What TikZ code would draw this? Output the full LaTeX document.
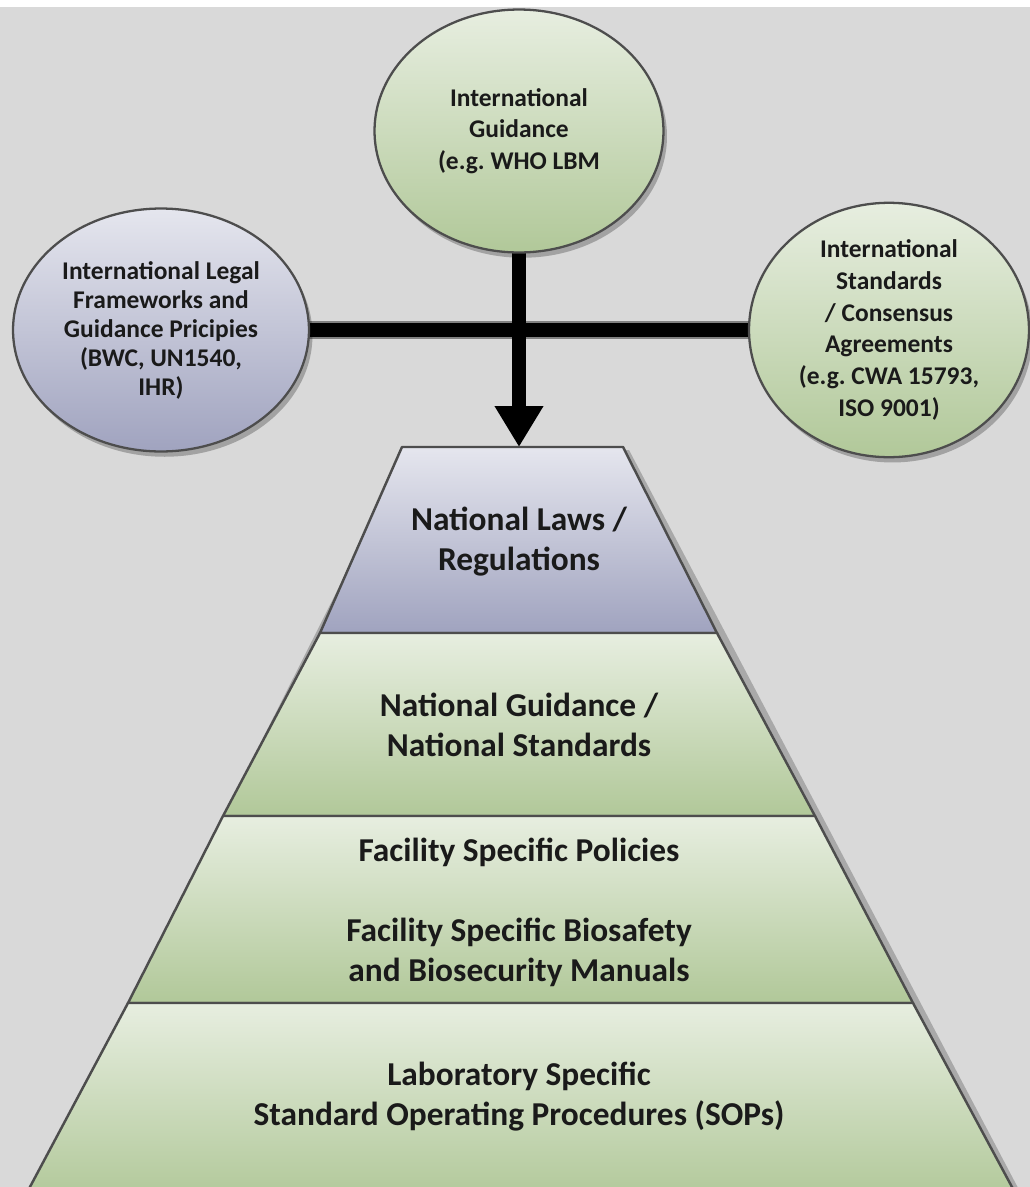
\documentclass[tikz,border=0pt]{standalone}
\usepackage{fontspec}
\setmainfont{Carlito}
\usepackage{xcolor}
\usepackage{tikz}
\usetikzlibrary{arrows.meta,positioning,shapes.geometric,shadows,backgrounds}
\frenchspacing

\definecolor{bggray}{HTML}{D9D9D9}
\definecolor{greenhi}{HTML}{E7EEE0}
\definecolor{greenlo}{HTML}{B1C899}
\definecolor{bluehi}{HTML}{E5E6EE}
\definecolor{bluelo}{HTML}{A0A3BF}
\definecolor{edgegray}{HTML}{4D4D4D}
\definecolor{inkblack}{HTML}{1A1A1A}

\begin{document}
\begin{tikzpicture}[
    x=0.02cm, y=-0.02cm,
    bubble/.style={ellipse, draw=edgegray, line width=1.3pt, inner sep=0pt, align=center, text=inkblack, font=\fontsize{14.5}{18}\selectfont\bfseries, drop shadow={shadow xshift=2pt, shadow yshift=-3pt, opacity=0.25, fill=black}},
    greenbub/.style={bubble, top color=greenhi, bottom color=greenlo},
    bluebub/.style={bubble, top color=bluehi, bottom color=bluelo},
    tierlabel/.style={align=center, text=inkblack, font=\fontsize{19}{22.8}\selectfont\bfseries},
    level/.style={draw=edgegray, line width=1.4pt, line join=round},
    bar/.style={line width=0.28cm, draw=black},
    pointer/.style={bar, -{Triangle[width=0.92cm, length=0.82cm]}}
]
    \useasboundingbox (0,0) rectangle (1030,1187);

    % Pyramid shadow
    \fill[black, opacity=0.22] (408,450) -- (629,450) -- (1026,1203) -- (29,1203) -- cycle;

    % Pyramid tiers
    \path[level, top color=bluehi, bottom color=bluelo] (402,447) -- (623,447) -- (717,633) -- (320,633) -- cycle;
    \path[level, top color=greenhi, bottom color=greenlo] (320,633) -- (717,633) -- (815,816) -- (223,816) -- cycle;
    \path[level, top color=greenhi, bottom color=greenlo] (223,816) -- (815,816) -- (913,1003) -- (128,1003) -- cycle;
    \path[level, top color=greenhi, bottom color=greenlo] (128,1003) -- (913,1003) -- (1019,1200) -- (23,1200) -- cycle;

    \node[tierlabel] (laws) at (519,542) {National Laws /\\Regulations};
    \node[tierlabel] (natguide) at (519,725) {National Guidance /\\National Standards};
    \node[tierlabel] (facility) at (519,912) {Facility Specific Policies\\[22.8pt]Facility Specific Biosafety\\and Biosecurity Manuals};
    \node[tierlabel] (labsops) at (519,1097) {Laboratory Specific\\Standard Operating Procedures (SOPs)};
    \coordinate (lawstop) at (519,447);

    % International sources
    \node[greenbub, minimum width=5.78cm, minimum height=4.86cm] (intlguide) at (519,131) {International\\Guidance\\(e.g. WHO LBM};
    \node[bluebub, minimum width=5.92cm, minimum height=4.86cm, font=\fontsize{14.5}{16.5}\selectfont\bfseries] (intllegal) at (161,330) {International Legal\\Frameworks and\\Guidance Pricipies\\(BWC, UN1540,\\IHR)};
    \node[greenbub, minimum width=5.6cm, minimum height=4.82cm] (intlstd) at (889,330) {International\\Standards\\/ Consensus\\Agreements\\(e.g. CWA 15793,\\ISO 9001)};

    % Connections
    \begin{scope}[on background layer]
        \fill[bggray] (0,7) rectangle (1030,1187);
        \fill[white] (0,0) rectangle (1030,7);
        \draw[bar, draw=black!50, line width=0.35cm, shorten <=-4pt, shorten >=-4pt] (intllegal) -- (intlstd);
        \draw[bar, shorten <=-4pt, shorten >=-4pt] (intllegal) -- (intlstd);
        \draw[pointer, shorten <=-3pt] (intlguide) -- (lawstop);
    \end{scope}

\end{tikzpicture}
\end{document}
